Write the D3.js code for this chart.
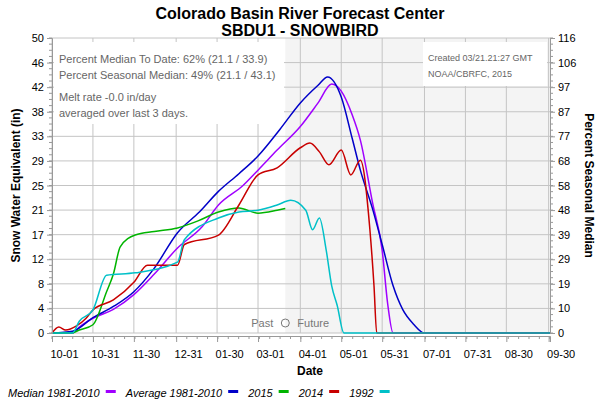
<!DOCTYPE html>
<html><head><meta charset="utf-8">
<script src="https://cdn.jsdelivr.net/npm/d3@7"></script>
<style>body{margin:0;background:#fff}text{font-family:"Liberation Sans",Arial,sans-serif}</style>
</head><body>
<script>
// day of water year (0 = 10-01), snow water equivalent in inches
var median = [[0,0],[15,0],[20,1],[30,2.5],[45,4],[60,6.5],[75,10],[92,14.4],[110,18],[122,21.7],[140,25],[151,27.6],[165,31],[182,35],[195,39],[205,42.2],[212,41],[220,37],[226,32.7],[235,22],[242,14],[246,5],[250,0],[365,0]];
var average = [[0,0],[15,0.3],[30,2.6],[45,4.5],[60,7],[75,11],[92,17],[108,20.5],[122,24],[137,27],[151,30],[167,34.5],[182,39],[195,42],[202,43.4],[212,40],[220,33],[226,27.6],[235,21],[242,15],[250,8],[257,4],[265,1.5],[273,0],[365,0]];
var y2015 = [[0,0],[14,0],[20,0.5],[30,1.4],[40,7],[45,10],[50,14.6],[61,16.6],[75,17.2],[92,17.8],[107,19],[122,20.5],[137,21.2],[151,20.3],[165,20.8],[171,21.1]];
var y2014 = [[0,0],[5,1],[10,0.5],[18,1.2],[25,2.5],[30,3.9],[45,5.6],[60,8.6],[70,11.5],[92,11.5],[97,15],[122,16.6],[137,21.7],[151,26.8],[165,28],[182,31.4],[189,32.2],[196,30.7],[203,28.5],[212,31],[219,26.8],[226,29.3],[233,17.5],[236,8],[238,0],[365,0]];
var y1992 = [[0,0],[15,0],[20,2],[30,3.9],[40,9.8],[61,10.2],[92,12],[97,15.8],[122,19.5],[137,20.5],[151,20.8],[165,21.7],[175,22.5],[186,20.8],[191,17.5],[196,19.5],[201,14],[205,8],[209,4.7],[214,0],[365,0]];
var leftTicks = ["0","4","8","12","17","21","25","29","33","38","42","46","50"];
var rightTicks = ["0","10","19","29","39","48","58","68","77","87","97","106","116"];
var xTickDays = [0,30,60,91,121,151,182,212,242,273,303,333,364];
var xTickLabels = ["10-01","10-31","11-30","12-31","01-30","03-01","04-01","05-01","05-31","07-01","07-31","08-30","09-30"];
var today = 171;

var W=600,H=400, L=52, R=550, T=38, B=333;
var svg=d3.select("body").append("svg").attr("width",W).attr("height",H);
var x=d3.scaleLinear().domain([0,365]).range([L,R]);
var y=d3.scaleLinear().domain([0,50]).range([B,T]);

svg.append("rect").attr("x",x(today)).attr("y",T).attr("width",R-x(today)).attr("height",B-T).attr("fill","#f4f4f4");

var g=svg.append("g");
d3.range(13).forEach(function(i){
  g.append("line").attr("x1",L).attr("x2",R).attr("y1",y(i*50/12)).attr("y2",y(i*50/12)).attr("stroke","#c4c4c4");
});
xTickDays.forEach(function(d){
  g.append("line").attr("x1",x(d)).attr("x2",x(d)).attr("y1",T).attr("y2",B).attr("stroke","#c4c4c4");
});

// info boxes
svg.append("rect").attr("x",L+2).attr("y",T+4).attr("width",230).attr("height",82).attr("fill","#fff");
var info=[["Percent Median To Date: 62% (21.1 / 33.9)",63],["Percent Seasonal Median: 49% (21.1 / 43.1)",79],["Melt rate -0.0 in/day",101],["averaged over last 3 days.",117]];
info.forEach(function(t){svg.append("text").attr("x",59).attr("y",t[1]).attr("font-size",11).attr("fill","#666").text(t[0]);});
svg.append("rect").attr("x",423).attr("y",T+4).attr("width",124).attr("height",44).attr("fill","#fff");
svg.append("text").attr("x",428).attr("y",61).attr("font-size",9).attr("fill","#666").text("Created 03/21.21:27 GMT");
svg.append("text").attr("x",428).attr("y",77).attr("font-size",9).attr("fill","#666").text("NOAA/CBRFC, 2015");

var line=d3.line().x(function(d){return x(d[0]);}).y(function(d){return y(d[1]);}).curve(d3.curveMonotoneX);
var series=[[median,"#a000ff"],[average,"#0000c8"],[y2015,"#00b400"],[y2014,"#c80000"],[y1992,"#00c0c8"]];
series.forEach(function(s){
  svg.append("path").attr("d",line(s[0])).attr("fill","none").attr("stroke",s[1]).attr("stroke-width",1.5);
});

svg.append("text").attr("x",x(today)-12).attr("y",327).attr("text-anchor","end").attr("font-size",11).attr("fill","#777").text("Past");
svg.append("circle").attr("cx",x(today)).attr("cy",323).attr("r",4).attr("fill","none").attr("stroke","#777");
svg.append("text").attr("x",x(today)+12).attr("y",327).attr("font-size",11).attr("fill","#777").text("Future");

// axes
var ya=d3.axisLeft(y).tickValues(d3.range(13).map(function(i){return i*50/12;})).tickFormat(function(d,i){return leftTicks[i];}).tickSize(5);
svg.append("g").attr("transform","translate("+L+",0)").call(ya);
var y2=d3.scaleLinear().domain([0,116]).range([B,T]);
var yb=d3.axisRight(y2).tickValues(d3.range(13).map(function(i){return i*116/12;})).tickFormat(function(d,i){return rightTicks[i];}).tickSize(5);
svg.append("g").attr("transform","translate("+R+",0)").call(yb);
var xa=d3.axisBottom(x).tickValues(xTickDays).tickFormat(function(d,i){return xTickLabels[i];}).tickSize(6);
var xg=svg.append("g").attr("transform","translate(0,"+(B+3)+")").call(xa);
xg.selectAll(".tick text").attr("dx",12).attr("dy","1.2em");
svg.selectAll(".domain").attr("stroke","#999");
svg.selectAll(".tick line").attr("stroke","#999");
svg.selectAll(".tick text").attr("font-size",11).attr("fill","#000").style("font-family","Liberation Sans, Arial");
// minor ticks
d3.range(49).forEach(function(i){
  svg.append("line").attr("x1",L-3).attr("x2",L).attr("y1",y(i*50/48)).attr("y2",y(i*50/48)).attr("stroke","#999");
  svg.append("line").attr("x1",R).attr("x2",R+3).attr("y1",y(i*50/48)).attr("y2",y(i*50/48)).attr("stroke","#999");
});
d3.range(0,365,7.6).forEach(function(d){
  svg.append("line").attr("x1",x(d)).attr("x2",x(d)).attr("y1",B+3).attr("y2",B+6).attr("stroke","#999");
});

svg.append("text").attr("x",W/2).attr("y",19).attr("text-anchor","middle").attr("font-size",16).attr("font-weight","bold").text("Colorado Basin River Forecast Center");
svg.append("text").attr("x",W/2).attr("y",36).attr("text-anchor","middle").attr("font-size",16).attr("font-weight","bold").text("SBDU1 - SNOWBIRD");
svg.append("text").attr("x",W/2+10).attr("y",375).attr("text-anchor","middle").attr("font-size",12).attr("font-weight","bold").text("Date");
svg.append("text").attr("transform","translate(20,"+((T+B)/2)+") rotate(-90)").attr("text-anchor","middle").attr("font-size",12).attr("font-weight","bold").text("Snow Water Equivalent (in)");
svg.append("text").attr("transform","translate(585,"+((T+B)/2)+") rotate(90)").attr("text-anchor","middle").attr("font-size",12).attr("font-weight","bold").text("Percent Seasonal Median");

var legend=["Median 1981-2010","Average 1981-2010","2015","2014","1992"];
var lx=8;
legend.forEach(function(n,i){
  var t=svg.append("text").attr("x",lx).attr("y",397).attr("font-size",11).attr("font-style","italic").text(n);
  lx+=t.node().getComputedTextLength()+6;
  svg.append("rect").attr("x",lx).attr("y",390).attr("width",10).attr("height",3).attr("fill",series[i][1]);
  lx+=20;
});
</script>
</body></html>
